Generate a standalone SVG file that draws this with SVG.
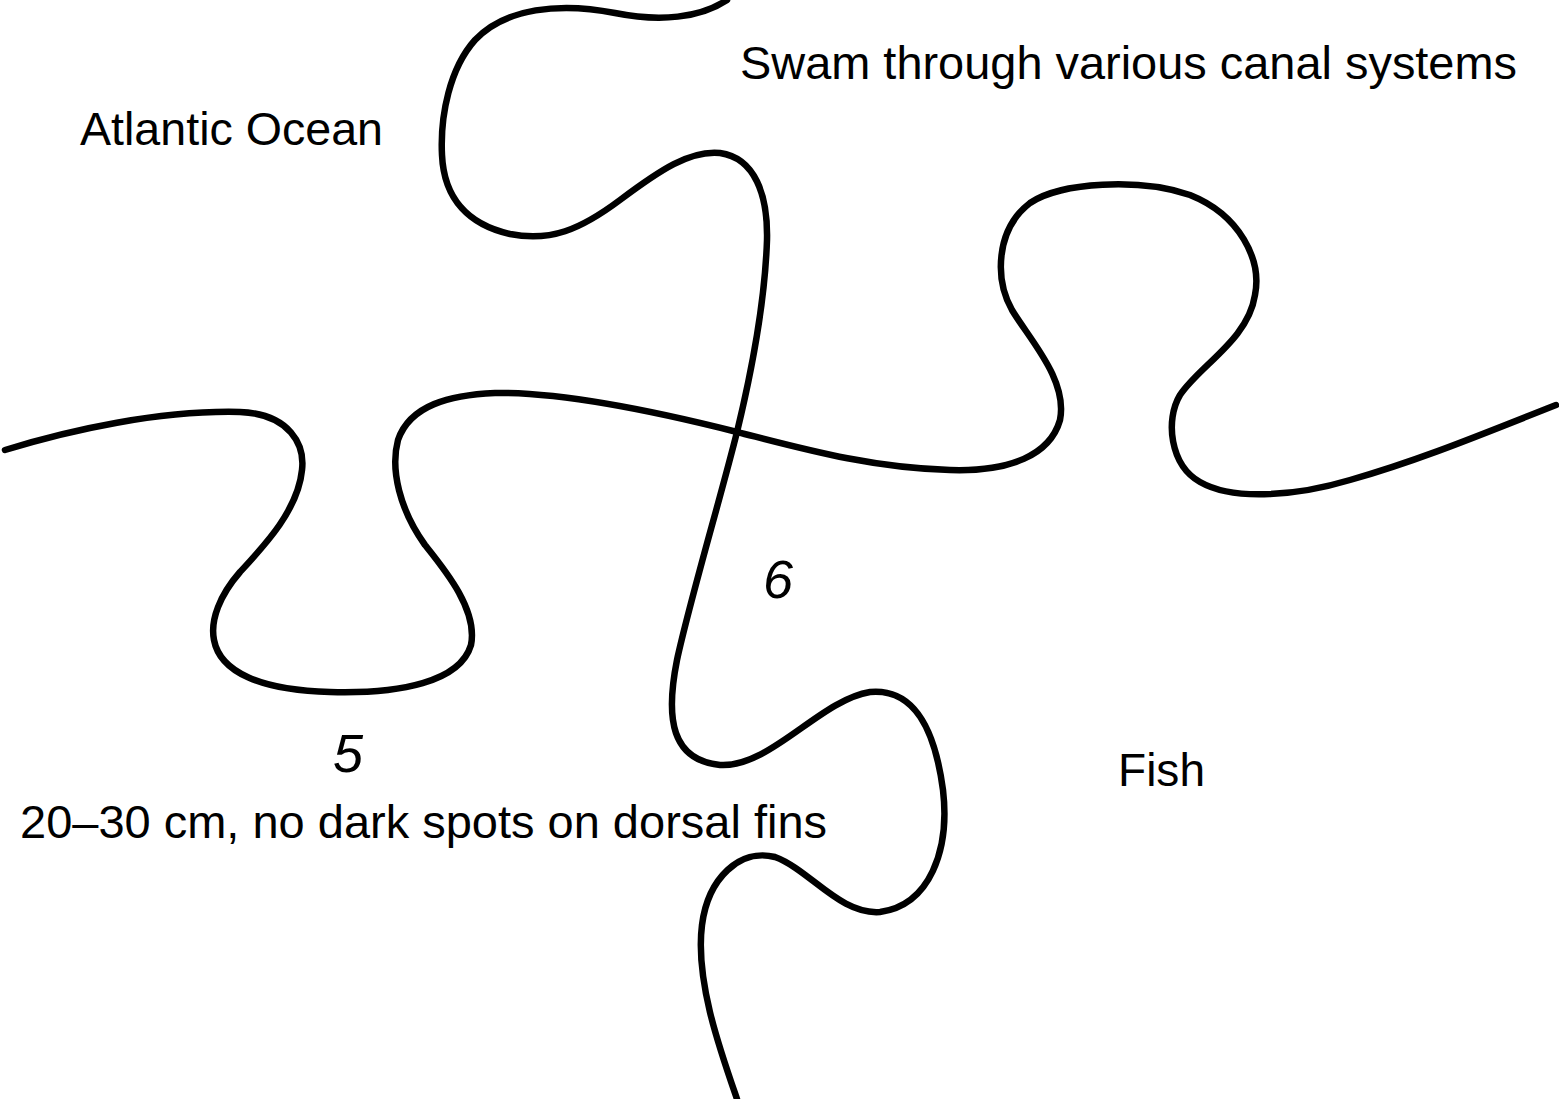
<svg xmlns="http://www.w3.org/2000/svg" width="1559" height="1099" viewBox="0 0 1559 1099">
<style>
.cut{fill:none;stroke:#000;stroke-width:6.5;stroke-linecap:round;stroke-linejoin:round}
.lbl{font-family:"Liberation Sans",Arial,sans-serif;font-size:46px;fill:#000}
.num{font-family:"Liberation Sans",Arial,sans-serif;font-size:54px;font-style:italic;fill:#000}
</style>
<rect width="1559" height="1099" fill="#fff"/>
<g id="cuts">
<path id="cut-vertical" class="cut" d="M 727 0 C 700 18, 660 22, 615 13 C 560 2, 505 8, 475 40 C 450 68, 440 115, 442 155 C 444 200, 470 225, 510 234 C 550 242, 580 230, 620 200 C 660 170, 690 150, 720 153 C 755 158, 768 195, 767 240 C 765 300, 752 370, 737 432 C 720 500, 690 600, 677 660 C 665 720, 672 760, 720 765 C 770 768, 820 700, 870 692 C 915 688, 935 730, 943 790 C 950 850, 930 905, 880 912 C 840 915, 810 870, 775 857 C 740 848, 708 878, 702 925 C 695 980, 720 1050, 737 1099"/>
<path id="cut-horizontal" class="cut" d="M 5 450 C 70 430, 160 410, 240 412 C 290 414, 305 445, 302 470 C 298 510, 265 545, 240 572 C 220 595, 210 620, 214 640 C 220 672, 260 690, 330 692 C 400 694, 460 682, 471 645 C 478 610, 445 570, 425 545 C 400 510, 390 470, 398 440 C 410 405, 450 395, 495 393 C 560 392, 650 410, 737 432 C 800 448, 870 468, 950 470 C 1010 472, 1050 455, 1060 420 C 1068 380, 1030 340, 1012 310 C 995 280, 995 230, 1030 203 C 1060 182, 1140 178, 1190 195 C 1240 215, 1262 260, 1255 295 C 1248 340, 1200 365, 1180 395 C 1165 420, 1170 465, 1200 482 C 1235 502, 1300 495, 1350 480 C 1420 460, 1480 435, 1556 405"/>
</g>
<g id="piece-top-left"><text class="lbl" x="80" y="145" textLength="303" lengthAdjust="spacingAndGlyphs">Atlantic Ocean</text></g>
<g id="piece-top-right"><text class="lbl" x="740" y="79" textLength="777" lengthAdjust="spacingAndGlyphs">Swam through various canal systems</text></g>
<g id="piece-5"><text class="num" x="333" y="772">5</text>
<text class="lbl" x="20" y="838" textLength="807" lengthAdjust="spacingAndGlyphs">20–30 cm, no dark spots on dorsal fins</text></g>
<g id="piece-6"><text class="num" x="763" y="598">6</text>
<text class="lbl" x="1118" y="786" textLength="87" lengthAdjust="spacingAndGlyphs">Fish</text></g>
</svg>
